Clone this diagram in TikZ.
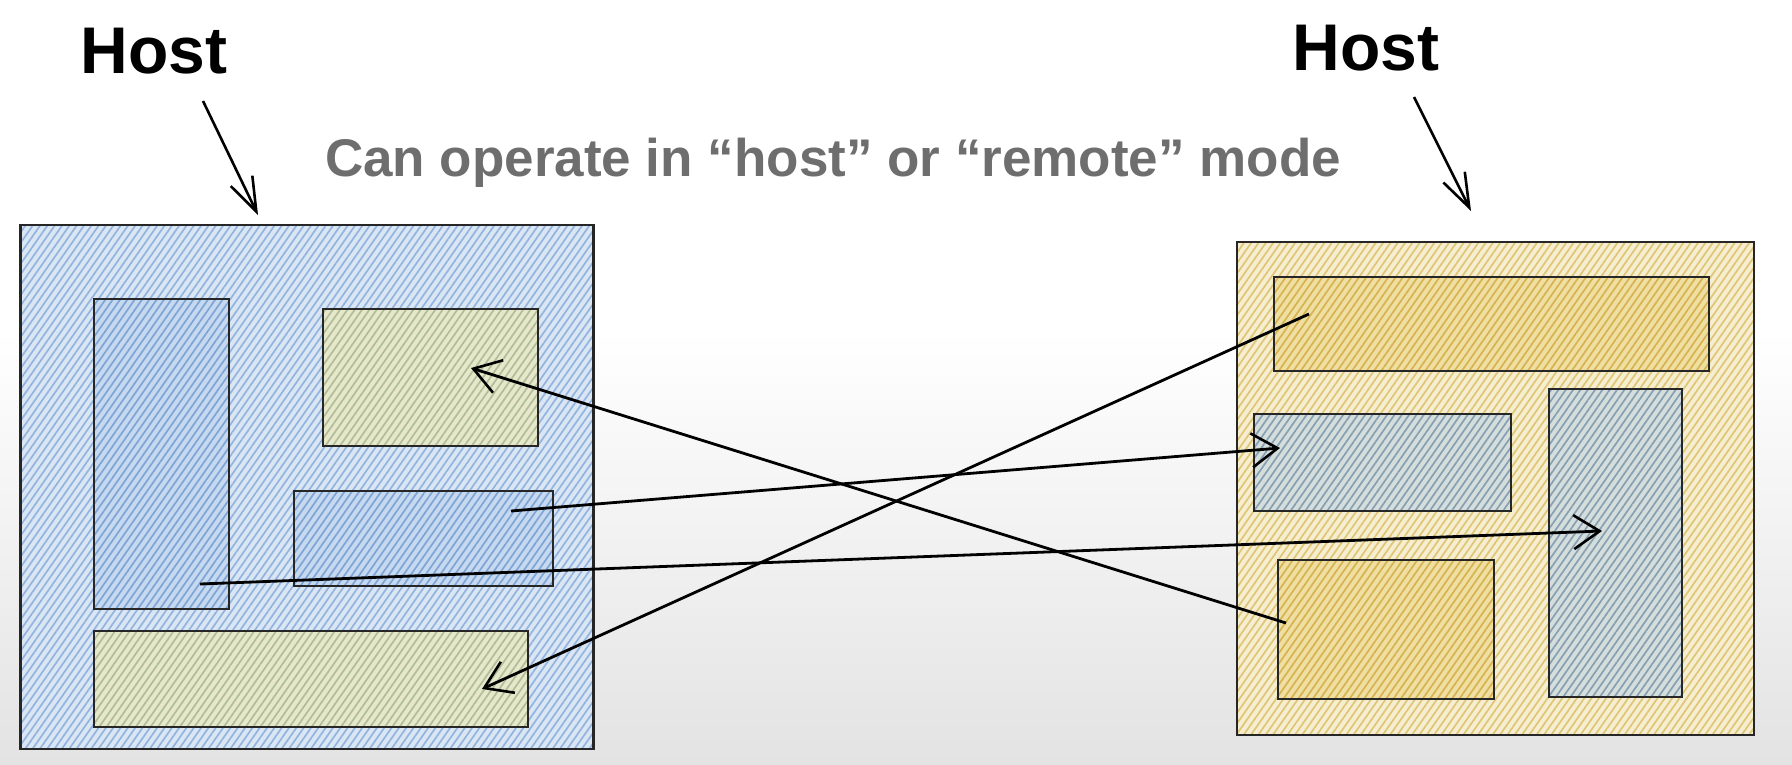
\documentclass[tikz,border=0pt]{standalone}
\usepackage{fontspec}
\setmainfont{Liberation Sans}
\usetikzlibrary{patterns.meta,arrows.meta}

\definecolor{blueback}{HTML}{DAE6F4}
\definecolor{bluelines}{HTML}{93B4DE}
\definecolor{deepback}{HTML}{C6D9F0}
\definecolor{deeplines}{HTML}{7FA5D5}
\definecolor{sandback}{HTML}{F6EED0}
\definecolor{sandlines}{HTML}{DFC576}
\definecolor{goldback}{HTML}{F0DFA2}
\definecolor{goldlines}{HTML}{D6B350}
\definecolor{oliveback}{HTML}{E6E7CB}
\definecolor{olivelines}{HTML}{B0BE98}
\definecolor{slateback}{HTML}{D5DEDD}
\definecolor{slatelines}{HTML}{86A0B2}
\definecolor{titlegray}{HTML}{6E6E6E}

\tikzset{
  panel/.style={draw=black!85, line width=2.8pt, inner sep=0pt},
  hatch/.style 2 args={preaction={fill=#1}, pattern={Lines[angle=55,distance=6pt,line width=1.7pt]}, pattern color=#2},
  link/.style={line width=2.8pt, -{Straight Barb[length=26pt,width=34pt,line width=2.6pt]}},
  pointer/.style={line width=2.6pt, -{Straight Barb[length=34pt,width=24pt,line width=2.6pt]}},
  hostlabel/.style={font=\fontsize{66}{66}\selectfont\bfseries, text=black},
}

\begin{document}
\begin{tikzpicture}[x=1pt, y=-1pt]
  \useasboundingbox (0,0) rectangle (1792,764);
  \fill[white] (0,0) rectangle (1792,764);
  \shade[top color=white, bottom color=black!11] (0,330) rectangle (1792,764);

  % left host
  \node[panel, hatch={blueback}{bluelines}, minimum width=573pt, minimum height=524pt] (leftbox) at (307,487) {};
  \node[panel, hatch={deepback}{deeplines}, minimum width=135pt, minimum height=310pt] (ltall) at (161.5,454) {};
  \node[panel, hatch={oliveback}{olivelines}, minimum width=215pt, minimum height=137pt] (ltop) at (430.5,377.5) {};
  \node[panel, hatch={deepback}{deeplines}, minimum width=259pt, minimum height=95pt] (lmid) at (423.5,538.5) {};
  \node[panel, hatch={oliveback}{olivelines}, minimum width=434pt, minimum height=96pt] (lbot) at (311,679) {};

  % right host
  \node[panel, hatch={sandback}{sandlines}, minimum width=517pt, minimum height=493pt] (rightbox) at (1495.5,488.5) {};
  \node[panel, hatch={goldback}{goldlines}, minimum width=435pt, minimum height=94pt] (rtop) at (1491.5,324) {};
  \node[panel, hatch={slateback}{slatelines}, minimum width=257pt, minimum height=97pt] (rmid) at (1382.5,462.5) {};
  \node[panel, hatch={slateback}{slatelines}, minimum width=133pt, minimum height=308pt] (rtall) at (1615.5,543) {};
  \node[panel, hatch={goldback}{goldlines}, minimum width=216pt, minimum height=139pt] (rbot) at (1386,629.5) {};

  % labels
  \node[hostlabel] (hostl) at (154,51) {Host};
  \node[hostlabel] (hostr) at (1366,48) {Host};
  \node[font=\fontsize{53}{60}\selectfont\bfseries, text=titlegray] (title) at (833,163) {Can operate in “host” or “remote” mode};

  \coordinate (hl) at (203,101);
  \coordinate (hr) at (1414,97);
  \coordinate (hlend) at (258,215);
  \coordinate (hrend) at (1471,211);
  \draw[pointer] (hl) -- (hlend);
  \draw[pointer] (hr) -- (hrend);

  % connectors
  \coordinate (a1) at (1286,623);
  \coordinate (b1) at (471,368);
  \coordinate (a2) at (511,511);
  \coordinate (b2) at (1280,448);
  \coordinate (a3) at (200,584);
  \coordinate (b3) at (1602,531);
  \coordinate (a4) at (1309,314);
  \coordinate (b4) at (482,689);

  \draw[link] (a1) -- (b1);
  \draw[link] (a2) -- (b2);
  \draw[link] (a3) -- (b3);
  \draw[link] (a4) -- (b4);
\end{tikzpicture}
\end{document}
